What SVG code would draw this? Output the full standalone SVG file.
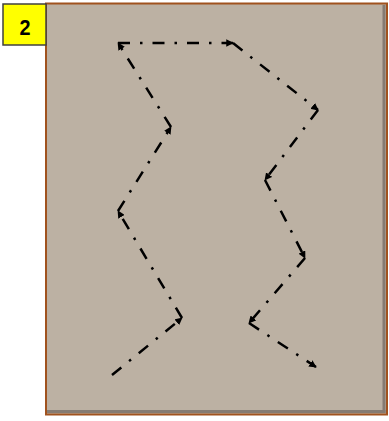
<svg xmlns="http://www.w3.org/2000/svg" width="389" height="421" viewBox="0 0 389 421">
<defs>
<style>
.seg{fill:none;stroke:#000;stroke-width:2.5;stroke-dasharray:12 10 2.5 10}
.lbl{font-family:"Liberation Sans",Arial,sans-serif;font-weight:bold;font-size:22px;fill:#000}
</style>
<marker id="arr" viewBox="0 0 10 10" refX="9" refY="5" markerWidth="3" markerHeight="3" orient="auto">
<path d="M0,0 L10,5 L0,10 z" fill="#000"/>
</marker>
</defs>
<g id="frame">
<rect x="46" y="3.5" width="341" height="411" fill="#bcb1a3" stroke="#a0521e" stroke-width="2"/>
<line x1="384" y1="5" x2="384" y2="413" stroke="#857b72" stroke-width="3"/>
<line x1="47" y1="411.5" x2="385.5" y2="411.5" stroke="#857b72" stroke-width="3"/>
</g>
<g id="label">
<rect x="3" y="4" width="43" height="41" fill="#ffff00" stroke="#404040" stroke-width="1.5"/>
<text class="lbl" x="25" y="35" text-anchor="middle" transform="translate(25 0) scale(0.9 1) translate(-25 0)">2</text>
</g>
<g id="connectors">
<line class="seg" x1="112" y1="375" x2="182" y2="318" marker-end="url(#arr)"/>
<line class="seg" x1="182" y1="318" x2="118" y2="211" marker-end="url(#arr)"/>
<line class="seg" x1="118" y1="211" x2="171" y2="127" marker-end="url(#arr)"/>
<line class="seg" x1="171" y1="127" x2="118" y2="43" marker-end="url(#arr)"/>
<line class="seg" x1="118" y1="43" x2="233" y2="43" marker-end="url(#arr)"/>
<line class="seg" x1="233" y1="43" x2="318" y2="110" marker-end="url(#arr)"/>
<line class="seg" x1="318" y1="110" x2="265" y2="180" marker-end="url(#arr)"/>
<line class="seg" x1="265" y1="180" x2="305" y2="258" marker-end="url(#arr)"/>
<line class="seg" x1="305" y1="258" x2="249" y2="323" marker-end="url(#arr)"/>
<line class="seg" x1="249" y1="323" x2="316" y2="367" marker-end="url(#arr)"/>
</g>
</svg>
